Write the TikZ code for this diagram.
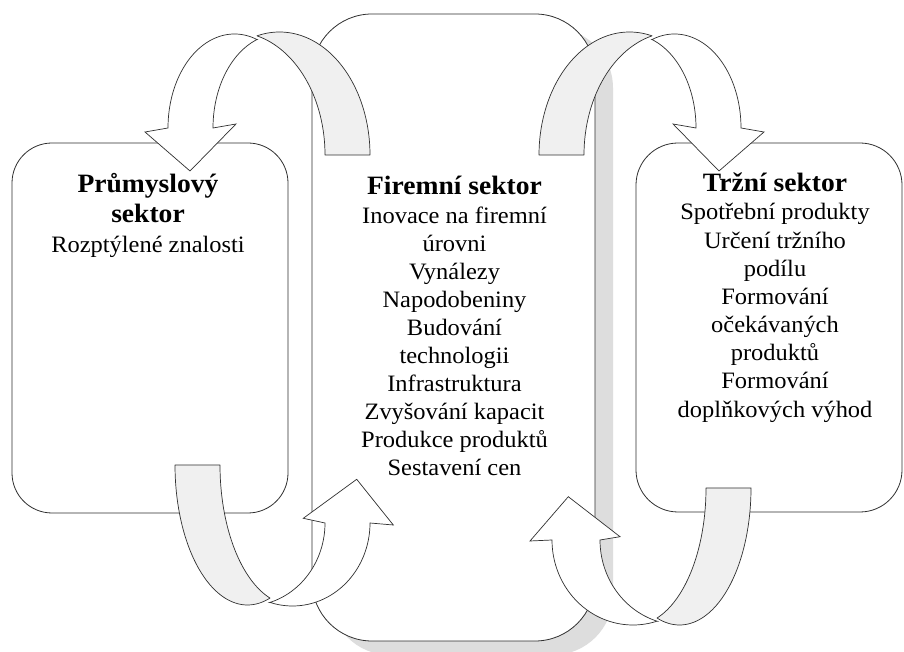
\documentclass[tikz,border=0pt]{standalone}
\usepackage{fontspec}
\setmainfont[FakeStretch=1.04]{Liberation Serif}
\definecolor{backfill}{HTML}{F0F0F0}
\definecolor{shadowgray}{HTML}{DDDDDD}
\definecolor{edge}{HTML}{303030}
\tikzset{
  box/.style={draw=edge, line width=0.8pt, fill=white, rectangle, inner sep=0pt},
  shadowbox/.style={fill=shadowgray, rectangle, inner sep=0pt},
  backband/.style={draw=edge, line width=0.7pt, fill=backfill, line join=round},
  frontband/.style={draw=edge, line width=0.7pt, fill=white, line join=miter},
  ttl/.style={font=\fontsize{26.5}{31}\selectfont\bfseries, anchor=base, inner sep=0pt},
  reg/.style={font=\fontsize{23.5}{28}\selectfont, anchor=base, inner sep=0pt},
}
% curved ribbon arrow: #1,#2 origin (image px), #3,#4 scales
\newcommand{\drawribbon}[4]{%
 \begin{scope}[shift={(#1,#2)}, xscale=#3, yscale=#4]
  \pgfmathsetmacro\thA{acos(\dA/(2*\rA))}
  \pgfmathsetmacro\thAc{180-\thA}
  \pgfmathsetmacro\thB{acos(\dB/(2*\rB))}
  \pgfmathsetmacro\thBc{180-\thB}
  \filldraw[backband] ({\cB-\dB+\rB},{-\tB})
    -- plot[domain=0:\thB, samples=60, variable=\t] ({\cB-\dB+\rB*cos(\t)},{-\tB+\hB*sin(\t)})
    -- plot[domain=\thBc:0, samples=60, variable=\t] ({\cB+\rB*cos(\t)},{-\tB+\hB*sin(\t)})
    -- cycle;
  \filldraw[frontband] ({-\rA},0)
    -- plot[domain=180:\thA, samples=60, variable=\t] ({\rA*cos(\t)},{\hA*sin(\t)})
    -- plot[domain=\thAc:180, samples=60, variable=\t] ({\dA+\rA*cos(\t)},{\hA*sin(\t)})
    -- (\iwu,\iwv) -- (\tpu,\tpv) -- (\owu,\owv) -- cycle;
 \end{scope}}
\begin{document}
\begin{tikzpicture}[x=1pt,y=1pt]
\begin{scope}[shift={(0,652)}, yscale=-1]
  \fill[white] (0,0) rectangle (904,652);
  \useasboundingbox (0,0) rectangle (904,652);

  % boxes
  \node[shadowbox, rounded corners=60pt, minimum width=283pt, minimum height=627pt] (firmshadow) at (471.5,341.5) {};
  \node[box, rounded corners=60pt, minimum width=283pt, minimum height=627pt] (firmbox) at (453.5,327.5) {};
  \node[box, rounded corners=40pt, minimum width=276pt, minimum height=370pt] (indbox) at (150,328) {};
  \node[box, rounded corners=42pt, minimum width=266pt, minimum height=369pt] (mktbox) at (769,327.5) {};

  % texts
  \node[ttl] (indt1) at (148,192.5) {Průmyslový};
  \node[ttl] (indt2) at (148,223) {sektor};
  \node[reg] (ind1) at (148,253) {Rozptýlené znalosti};

  \node[ttl] (firmt) at (454.5,195) {Firemní sektor};
  \foreach \txt [count=\i] in {Inovace na firemní, úrovni, Vynálezy, Napodobeniny, Budování, technologii, Infrastruktura, Zvyšování kapacit, Produkce produktů, Sestavení cen}
    \node[reg] (firm\i) at (454.5,{223.5+28*(\i-1)}) {\txt};

  \node[ttl] (mktt) at (775,192) {Tržní sektor};
  \foreach \txt [count=\i] in {Spotřební produkty, Určení tržního, podílu, Formování, očekávaných, produktů, Formování, doplňkových výhod}
    \node[reg] (mkt\i) at (775,{220+28.15*(\i-1)}) {\txt};

  % arrows top
  \def\rA{66.5}\def\hA{94}\def\dA{45}\def\cB{45}\def\dB{45}\def\rB{90.5}\def\hB{123}\def\tB{27}
  \def\iwu{1.5}\def\iwv{4}\def\tpu{-44.5}\def\tpv{-43}\def\owu{-89.5}\def\owv{-4}
  \drawribbon{234.5}{128}{1}{-1}
  \drawribbon{674.5}{128}{-1}{-1}

  % arrow bottom left
  \def\rA{77.5}\def\hA{83}\def\dA{45}\def\cB{45}\def\dB{45}\def\rB{72.5}\def\hB{140}\def\tB{58}
  \def\iwu{-10.8}\def\iwv{-4.7}\def\tpu{-64.2}\def\tpv{-43.7}\def\owu{-100.8}\def\owv{2}
  \drawribbon{292.5}{523}{-1}{1}

  % arrow bottom right
  \def\rA{81}\def\hA{85}\def\dA{48}\def\cB{46.5}\def\dB{45}\def\rB{71.5}\def\hB{137}\def\tB{52}
  \def\iwu{-13}\def\iwv{-3.3}\def\tpu{-64.7}\def\tpv{-43.3}\def\owu{-103}\def\owv{1}
  \drawribbon{633}{540}{1}{1}
\end{scope}
\end{tikzpicture}
\end{document}
